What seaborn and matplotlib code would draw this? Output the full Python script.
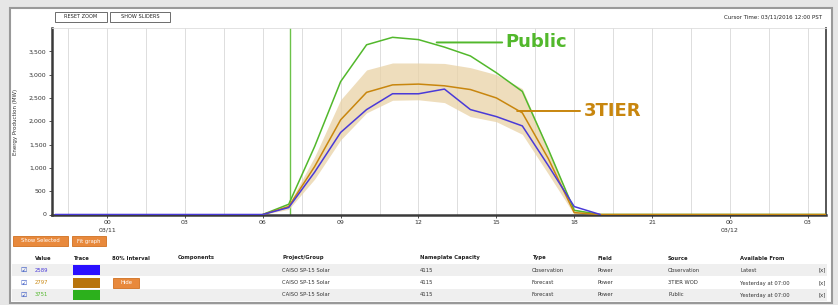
import matplotlib
matplotlib.use("Agg")
import matplotlib.pyplot as plt
import seaborn as sns
from matplotlib.patches import Rectangle

# pixel size of the screenshot
W, H = 838, 305

# hours from 03/11 00:00
obs_hours = [-2, -1, 0, 1, 2, 3, 4, 5, 6, 7, 8, 9, 10, 11, 12, 13, 14, 15, 16, 17, 18, 19]
obs_mw = [0, 0, 0, 0, 0, 0, 0, 0, 0, 150, 910, 1760, 2250, 2590, 2589, 2690, 2250, 2100, 1900, 1050, 170, 0]

fc_hours = [6, 7, 8, 9, 10, 11, 12, 13, 14, 15, 16, 17, 18, 19, 20, 21, 22, 23, 24, 25, 26, 27, 28]
tier_mw = [0, 170, 1030, 2030, 2620, 2780, 2797, 2760, 2680, 2500, 2180, 1200, 40, 0, 0, 0, 0, 0, 0, 0, 0, 0, 0]
tier_lo = [0, 110, 760, 1600, 2180, 2450, 2460, 2400, 2100, 1990, 1720, 870, 0, 0, 0, 0, 0, 0, 0, 0, 0, 0, 0]
tier_hi = [0, 220, 1240, 2460, 3100, 3250, 3250, 3240, 3150, 3000, 2700, 1400, 110, 0, 0, 0, 0, 0, 0, 0, 0, 0, 0]
public_mw = [0, 220, 1460, 2850, 3640, 3800, 3751, 3590, 3400, 3040, 2640, 1400, 90, 0, 0, 0, 0, 0, 0, 0, 0, 0, 0]

tick_hours = [0, 3, 6, 9, 12, 15, 18, 21, 24, 27]
tick_labels = ["00\n03/11", "03", "06", "09", "12", "15", "18", "21", "00\n03/12", "03"]
y_ticks = [0, 500, 1000, 1500, 2000, 2500, 3000, 3500]

BLUE = "#4a3ad8"
ORANGE = "#c8860e"
GREEN = "#52b82c"
BAND = "#e9d2a6"


def fx(x):
    return x / W


def fy(y):
    return 1 - y / H


sns.set_style("white")
plt.rcParams["font.family"] = ["DejaVu Sans"]

fig = plt.figure(figsize=(W / 100, H / 100), dpi=100)
fig.patch.set_facecolor("#e6e6e6")
fig.patches.append(Rectangle((fx(10), fy(303)), fx(822), 295 / H, transform=fig.transFigure,
                             facecolor="white", edgecolor="#999999", lw=1.5, zorder=-5))

ax = fig.add_axes([fx(52), fy(214.5), fx(826 - 52), (214.5 - 28) / H])
ax.set_facecolor("white")

for g in [-1.5 + 1.5 * i for i in range(20)]:
    ax.axvline(g, color="#dddddd", lw=0.7, zorder=0)
ax.axvline(7.05, color="#6cc24a", lw=1.0, zorder=1)

ax.fill_between(fc_hours, tier_lo, tier_hi, color=BAND, alpha=0.75, lw=0, zorder=2)
sns.lineplot(x=fc_hours, y=public_mw, ax=ax, color=GREEN, lw=1.1, zorder=3)
sns.lineplot(x=fc_hours, y=tier_mw, ax=ax, color=ORANGE, lw=1.1, zorder=4)
sns.lineplot(x=obs_hours, y=obs_mw, ax=ax, color=BLUE, lw=1.1, zorder=5)

ax.annotate("Public", xy=(12.7, 3690), xytext=(15.35, 3690), color=GREEN, fontsize=13,
            fontweight="bold", va="center", ha="left",
            arrowprops=dict(arrowstyle="-", color=GREEN, lw=1.4, shrinkA=0, shrinkB=0, relpos=(0, 0.5)))
ax.annotate("3TIER", xy=(15.8, 2220), xytext=(18.35, 2220), color=ORANGE, fontsize=13,
            fontweight="bold", va="center", ha="left",
            arrowprops=dict(arrowstyle="-", color=ORANGE, lw=1.4, shrinkA=0, shrinkB=0, relpos=(0, 0.5)))

ax.set_xlim(-2.12, 27.7)
ax.set_ylim(0, 4000)
ax.set_xticks(tick_hours)
ax.set_xticklabels(tick_labels, fontsize=4.5, color="#333333", linespacing=1.6)
ax.set_yticks(y_ticks)
ax.set_yticklabels([f"{v:,}" for v in y_ticks], fontsize=4.5, color="#333333")
ax.tick_params(axis="both", length=2, width=0.6, color="#333333", pad=2, left=True, bottom=True)
ax.set_xlabel("")
ax.set_ylabel("")
for side in ["top"]:
    ax.spines[side].set_color("#dddddd")
    ax.spines[side].set_linewidth(0.6)
ax.spines["left"].set_color("#3a3a3a")
ax.spines["left"].set_linewidth(1.8)
ax.spines["bottom"].set_color("#3a3a3a")
ax.spines["bottom"].set_linewidth(1.8)
ax.spines["right"].set_color("#3a3a3a")
ax.spines["right"].set_linewidth(1.2)

fig.text(fx(16), fy(122), "Energy Production (MW)", rotation=90, fontsize=4, ha="center", va="center",
         color="#333333")

# top buttons and cursor time
for x0, x1, label in [(55, 107, "RESET ZOOM"), (110, 170, "SHOW SLIDERS")]:
    fig.patches.append(Rectangle((fx(x0), fy(22)), fx(x1 - x0), 10 / H, transform=fig.transFigure,
                                 facecolor="white", edgecolor="#555555", lw=0.6))
    fig.text(fx((x0 + x1) / 2), fy(17), label, fontsize=3.6, ha="center", va="center", color="#222222")
fig.text(fx(822), fy(17), "Cursor Time: 03/11/2016 12:00 PST", fontsize=4, ha="right", va="center",
         color="#222222")

# orange buttons under the chart
for x0, x1, label in [(13, 68, "Show Selected"), (72, 106, "Fit graph")]:
    fig.patches.append(Rectangle((fx(x0), fy(246)), fx(x1 - x0), 10 / H, transform=fig.transFigure,
                                 facecolor="#e8893c", edgecolor="#d07020", lw=0.6))
    fig.text(fx((x0 + x1) / 2), fy(241), label, fontsize=3.8, ha="center", va="center", color="white")

# table
col_x = [35, 73, 112, 178, 282, 420, 532, 597, 668, 740]
headers = ["Value", "Trace", "80% Interval", "Components", "Project/Group", "Nameplate Capacity",
           "Type", "Field", "Source", "Available From"]
for x, h in zip(col_x, headers):
    fig.text(fx(x), fy(258), h, fontsize=3.8, fontweight="bold", ha="left", va="center", color="#222222")

row_y = [270, 283, 295]
values = ["2589", "2797", "3751"]
trace_colors = ["#2a10ff", "#b8740c", "#2cb01c"]
value_colors = [BLUE, ORANGE, GREEN]
types = ["Observation", "Forecast", "Forecast"]
sources = ["Observation", "3TIER WOD", "Public"]
available = ["Latest", "Yesterday at 07:00", "Yesterday at 07:00"]

for i, y in enumerate(row_y):
    if i != 1:
        fig.patches.append(Rectangle((fx(12), fy(y + 6)), fx(815), 12 / H, transform=fig.transFigure,
                                     facecolor="#efefef", edgecolor="none", zorder=-4))
    fig.text(fx(20), fy(y), "\u2611", fontsize=5, ha="left", va="center", color="#3050c0")
    fig.text(fx(col_x[0]), fy(y), values[i], fontsize=3.8, ha="left", va="center", color=value_colors[i])
    fig.patches.append(Rectangle((fx(73), fy(y + 5)), fx(27), 10 / H, transform=fig.transFigure,
                                 facecolor=trace_colors[i], edgecolor="none"))
    fig.text(fx(col_x[4]), fy(y), "CAISO SP-15 Solar", fontsize=3.8, ha="left", va="center", color="#333333")
    fig.text(fx(col_x[5]), fy(y), "4115", fontsize=3.8, ha="left", va="center", color="#333333")
    fig.text(fx(col_x[6]), fy(y), types[i], fontsize=3.8, ha="left", va="center", color="#333333")
    fig.text(fx(col_x[7]), fy(y), "Power", fontsize=3.8, ha="left", va="center", color="#333333")
    fig.text(fx(col_x[8]), fy(y), sources[i], fontsize=3.8, ha="left", va="center", color="#333333")
    fig.text(fx(col_x[9]), fy(y), available[i], fontsize=3.8, ha="left", va="center", color="#333333")
    fig.text(fx(818), fy(y), "[x]", fontsize=3.8, ha="left", va="center", color="#333333")

fig.patches.append(Rectangle((fx(113), fy(288)), fx(26), 10 / H, transform=fig.transFigure,
                             facecolor="#e8893c", edgecolor="#d07020", lw=0.6))
fig.text(fx(126), fy(283), "Hide", fontsize=3.8, ha="center", va="center", color="white")

fig.savefig("out.png", dpi=100, facecolor=fig.get_facecolor())
